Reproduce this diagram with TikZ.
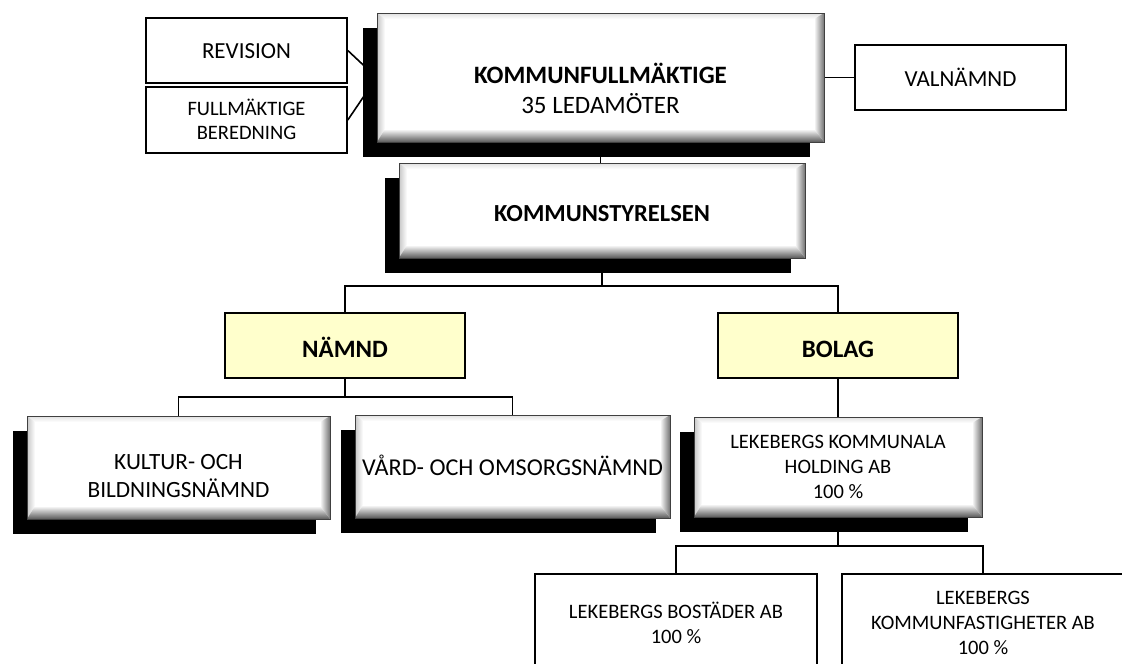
\documentclass[tikz,border=0pt]{standalone}
\usepackage{fontspec}
\setmainfont{Carlito}
\usetikzlibrary{shadows}
\usetikzlibrary{backgrounds}
\definecolor{paleyellow}{HTML}{FFFFCC}

\begin{document}
\begin{tikzpicture}[x=1pt,y=-1pt,
    every node/.style={font=\fontsize{20.5}{25}\selectfont, align=center, inner sep=0pt, text depth=0pt},
    plain/.style={draw, line width=1.6pt, fill=white},
    group/.style={draw, line width=1.6pt, fill=paleyellow, font=\fontsize{25}{28}\selectfont\bfseries, text height=23pt},
    bevel/.style={fill=white, draw=black!75, line width=0.8pt,
      general shadow={fill=black, shadow xshift=-14pt, shadow yshift=-15pt},
      path picture={
        \coordinate (bsw) at (path picture bounding box.south west);
        \coordinate (bse) at (path picture bounding box.south east);
        \coordinate (bnw) at (path picture bounding box.north west);
        \coordinate (bne) at (path picture bounding box.north east);
        \shade[top color=black!12, bottom color=white] (bnw) -- (bne) -- ([xshift=-10pt,yshift=-6pt]bne) -- ([xshift=8pt,yshift=-6pt]bnw) -- cycle;
        \shade[left color=black!22, right color=white] (bsw) -- (bnw) -- ([xshift=8pt,yshift=-6pt]bnw) -- ([xshift=8pt,yshift=13pt]bsw) -- cycle;
        \shade[left color=white, right color=black!55] (bse) -- (bne) -- ([xshift=-10pt,yshift=-6pt]bne) -- ([xshift=-10pt,yshift=13pt]bse) -- cycle;
        \shade[top color=white, bottom color=black!65] (bsw) -- (bse) -- ([xshift=-10pt,yshift=13pt]bse) -- ([xshift=8pt,yshift=13pt]bsw) -- cycle;
      }},
    link/.style={line width=1.6pt}]
  \useasboundingbox (0,0) rectangle (1122,664);

  % top level
  \node[bevel, minimum width=447pt, minimum height=129pt, text height=71pt,
    font=\fontsize{25}{30}\selectfont] (kf) at (600.5,77.5)
    {\textbf{KOMMUNFULLMÄKTIGE}\\35 LEDAMÖTER};
  \node[plain, minimum width=201pt, minimum height=65pt, text height=15.6pt,
    font=\fontsize{23}{27}\selectfont] (rev) at (246.5,50.5) {REVISION};
  \node[plain, minimum width=201pt, minimum height=66pt, text height=38pt,
    font=\fontsize{20.5}{24}\selectfont] (ber) at (246.5,120) {FULLMÄKTIGE\\BEREDNING};
  \node[plain, minimum width=211pt, minimum height=65pt, text height=17pt,
    font=\fontsize{23}{27}\selectfont] (val) at (960.5,77.5) {VALNÄMND};
  \node[bevel, minimum width=406pt, minimum height=95pt, text height=21pt,
    font=\fontsize{24.5}{28}\selectfont\bfseries] (ks) at (602,210.5) {KOMMUNSTYRELSEN};

  % groups
  \node[group, minimum width=240pt, minimum height=65pt] (nmd) at (345,345.5) {NÄMND};
  \node[group, minimum width=240pt, minimum height=65pt] (bol) at (838,345.5) {BOLAG};

  \node[bevel, minimum width=303pt, minimum height=103pt, text height=59pt,
    font=\fontsize{23.3}{28}\selectfont] (kul) at (178.5,467.5) {KULTUR- OCH\\BILDNINGSNÄMND};
  \node[bevel, minimum width=315pt, minimum height=103pt, text height=17pt,
    font=\fontsize{24.2}{28}\selectfont] (vard) at (512.5,466.5) {VÅRD- OCH OMSORGSNÄMND};
  \node[bevel, minimum width=288pt, minimum height=100pt, text height=62pt] (hold) at (838,467)
    {LEKEBERGS KOMMUNALA\\HOLDING AB\\100 \%};

  % companies
  \node[plain, minimum width=282pt, minimum height=99pt, text height=39pt] (bost) at (676,623.5)
    {LEKEBERGS BOSTÄDER AB\\100 \%};
  \node[plain, minimum width=282pt, minimum height=96pt, text height=64pt] (fast) at (983,622)
    {LEKEBERGS\\KOMMUNFASTIGHETER AB\\100 \%};

  % connectors
  \begin{scope}[on background layer]
    \coordinate (ksbus) at (ks.south |- 0,286);
    \coordinate (nbus) at (nmd.south |- 0,397);
    \coordinate (hbus) at (hold.south |- 0,546);
    \draw[link] (rev.east) -- (kf.west);
    \draw[link] (ber.east) -- (kf.west);
    \draw[link] (kf.east) -- (val.west);
    \draw[link] (kf.south) -- (kf.south |- ks.north);
    \draw[link] (ks.south) -- (ksbus);
    \draw[link] (nmd.north) |- (ksbus) -| (bol.north);
    \draw[link] (nmd.south) -- (nbus);
    \draw[link] (kul.north) |- (nbus) -| (vard.north);
    \draw[link] (bol.south) -- (hold.north);
    \draw[link] (hold.south) -- (hbus);
    \draw[link] (bost.north) |- (hbus) -| (fast.north);
  \end{scope}
\end{tikzpicture}
\end{document}
